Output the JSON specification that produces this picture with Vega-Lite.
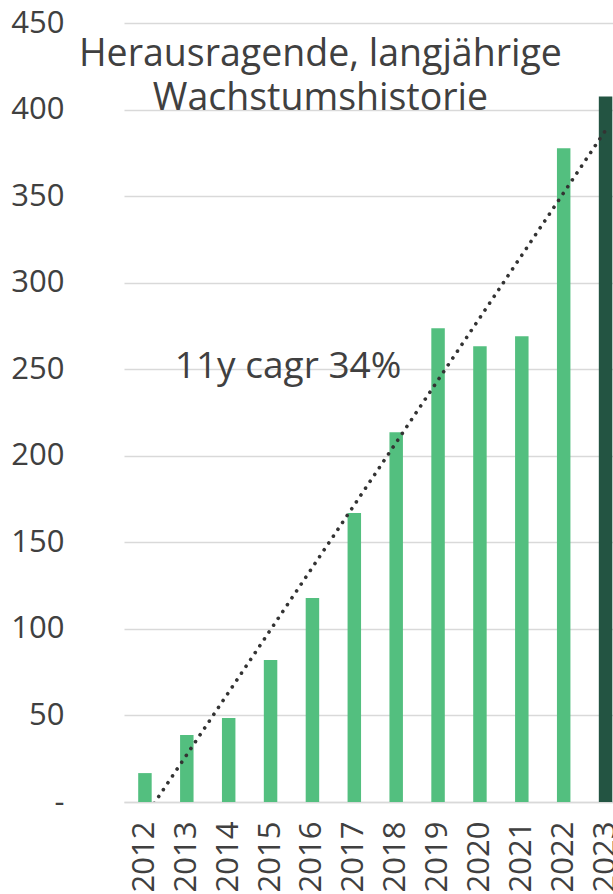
{
  "$schema": "https://vega.github.io/schema/vega-lite/v6.json",
  "width": 489,
  "height": 779,
  "autosize": {"type": "none"},
  "padding": {"left": 124, "top": 23, "right": 0, "bottom": 92},
  "background": "#ffffff",
  "config": {
    "view": {"stroke": null},
    "font": "Open Sans",
    "axis": {"labelFont": "Open Sans", "labelColor": "#404040"}
  },
  "datasets": {
    "bars": [
      {"year": "2012", "value": 16.7, "kind": "hist"},
      {"year": "2013", "value": 38.7, "kind": "hist"},
      {"year": "2014", "value": 48.5, "kind": "hist"},
      {"year": "2015", "value": 82, "kind": "hist"},
      {"year": "2016", "value": 117.8, "kind": "hist"},
      {"year": "2017", "value": 166.9, "kind": "hist"},
      {"year": "2018", "value": 213.6, "kind": "hist"},
      {"year": "2019", "value": 273.7, "kind": "hist"},
      {"year": "2020", "value": 263.3, "kind": "hist"},
      {"year": "2021", "value": 269, "kind": "hist"},
      {"year": "2022", "value": 377.6, "kind": "hist"},
      {"year": "2023", "value": 407.6, "kind": "current"}
    ],
    "trend": [
      {"year": "2012", "value": -8.7},
      {"year": "2023", "value": 388}
    ],
    "titles": [
      {"year": "2016", "value": 425, "label": "Herausragende, langjährige"},
      {"year": "2016", "value": 400, "label": "Wachstumshistorie"}
    ],
    "notes": [
      {"year": "2013", "value": 245, "label": "11y cagr 34%"}
    ]
  },
  "encoding": {
    "x": {
      "field": "year",
      "type": "ordinal",
      "sort": null,
      "scale": {
        "domain": ["2012","2013","2014","2015","2016","2017","2018","2019","2020","2021","2022","2023"],
        "range": [0, 502.5],
        "paddingInner": 0.678,
        "paddingOuter": 0.339
      },
      "axis": {
        "title": null,
        "labelAngle": -90,
        "labelFontSize": 31,
        "labelPadding": 19,
        "ticks": false,
        "domain": true,
        "domainColor": "#d9d9d9",
        "domainWidth": 1.3,
        "grid": false
      }
    },
    "y": {
      "field": "value",
      "type": "quantitative",
      "scale": {"domain": [0, 450], "nice": false, "zero": true},
      "axis": {
        "title": null,
        "values": [0, 50, 100, 150, 200, 250, 300, 350, 400, 450],
        "labelExpr": "datum.value == 0 ? '-\u2007' : datum.label",
        "labelFontSize": 31,
        "labelPadding": 60,
        "ticks": false,
        "domain": false,
        "grid": true,
        "gridColor": "#d9d9d9",
        "gridWidth": 1.3
      }
    }
  },
  "layer": [
    {
      "data": {"name": "bars"},
      "mark": {"type": "bar"},
      "encoding": {
        "color": {
          "field": "kind",
          "type": "nominal",
          "scale": {"domain": ["hist", "current"], "range": ["#53bf7f", "#235442"]},
          "legend": null
        }
      }
    },
    {
      "data": {"name": "trend"},
      "mark": {
        "type": "line",
        "clip": true,
        "color": "#333333",
        "strokeWidth": 3.6,
        "strokeCap": "round",
        "strokeDash": [0.1, 8.15]
      },
      "encoding": {}
    },
    {
      "data": {"name": "titles"},
      "mark": {
        "type": "text",
        "font": "Open Sans",
        "fontSize": 37.5,
        "color": "#404040",
        "align": "center",
        "baseline": "alphabetic",
        "dx": 8
      },
      "encoding": {"text": {"field": "label"}}
    },
    {
      "data": {"name": "notes"},
      "mark": {
        "type": "text",
        "font": "Open Sans",
        "fontSize": 37,
        "color": "#404040",
        "align": "left",
        "baseline": "alphabetic",
        "dx": -12
      },
      "encoding": {"text": {"field": "label"}}
    }
  ]
}
